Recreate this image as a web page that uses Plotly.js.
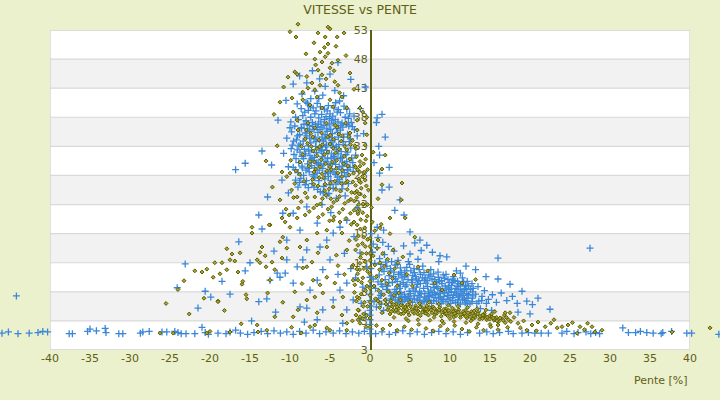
<!DOCTYPE html>
<html><head><meta charset="utf-8">
<script src="https://cdn.plot.ly/plotly-3.0.1.min.js"></script>
<style>html,body{margin:0;padding:0;background:#ebf0cd;}#chart{width:720px;height:400px;}</style>
</head><body><div id="chart"></div>
<script>
const chartTitle = 'VITESSE vs PENTE';
const xTitle = 'Pente [%]';
const xTicks = [-40,-35,-30,-25,-20,-15,-10,-5,0,5,10,15,20,25,30,35,40];
const yTicks = [-2,3,8,13,18,23,28,33,38,43,48,53];
const yTickText = ['3','3','8','13','18','23','28','33','38','43','48','53'];

// Blue series (+): [pente, vitesse]
const blueLeft = [
[-8.6,36.2],[-7.9,34.8],[-7.2,37.1],[-6.5,35.4],[-5.8,33.9],[-5.1,36.7],[-4.4,34.2],[-3.7,35.8],[-3.1,33.2],[-8.2,32.5],
[-7.5,31.4],[-6.8,33.0],[-6.1,30.8],[-5.4,32.3],[-4.7,30.1],[-4.0,31.7],[-3.4,29.6],[-8.9,30.2],[-8.0,28.9],[-7.3,29.7],
[-6.6,28.4],[-5.9,29.2],[-5.2,27.8],[-4.5,28.6],[-3.8,27.3],[-9.2,34.1],[-8.4,38.3],[-7.7,39.2],[-6.9,38.6],[-6.2,39.8],
[-5.5,38.1],[-4.8,37.5],[-4.1,38.9],[-3.5,37.0],[-2.8,35.1],[-2.4,32.7],[-2.9,30.4],[-9.5,31.6],[-9.8,35.5],[-8.7,33.4],
[-7.0,35.9],[-6.3,34.1],[-5.6,35.0],[-4.9,33.6],[-4.2,36.1],[-3.6,32.1],[-7.6,36.6],[-6.7,31.9],[-5.3,31.0],[-4.6,32.8],
[-8.1,35.3],[-7.4,33.6],[-6.0,36.3],[-5.7,37.6],[-4.3,29.9],[-3.2,28.5],[-6.4,27.1],[-7.1,27.9],[-5.0,26.4],[-4.0,26.9],
[-8.3,30.9],[-9.0,28.5],[-7.8,30.0],[-6.9,29.3],[-5.5,30.4],[-4.8,29.1],[-3.9,33.3],[-3.3,34.6],[-2.6,33.8],[-2.2,36.4],
[-6.6,40.4],[-7.4,41.2],[-5.9,41.8],[-5.2,40.0],[-8.0,40.6],[-4.5,39.6],[-3.8,40.8],[-6.9,42.5],[-5.6,43.3],[-7.9,43.9],
[-6.3,44.6],[-5.0,45.4],[-7.2,46.0],[-9.3,38.0],[-9.9,37.2],[-10.4,34.4],[-10.8,31.8],[-9.6,29.4],[-8.8,26.8],[-7.7,25.9],
[-6.2,25.2],[-5.4,24.6],[-4.2,24.1],[-3.5,25.7],[-2.7,26.6],[-2.1,28.7],[-1.8,31.5],[-1.6,34.8],[-2.0,38.2],[-2.9,39.4],
[-3.3,41.7],[-4.4,42.6],[-8.5,42.0],[-9.1,40.3],[-6.0,33.0],[-5.8,31.8],[-6.8,36.8],[-7.3,32.4],[-4.9,35.9],[-4.6,37.0],
[-5.1,34.5],[-6.4,37.9],[-7.0,30.6],[-8.5,29.6],[-3.7,30.9],[-3.0,31.6],[-2.5,29.4],[-6.1,32.2],[-5.3,28.6],[-4.1,27.7],
[-8.8,35.0],[-8.0,37.4],[-7.4,38.0],[-6.6,36.3],[-6.0,34.6],[-5.4,36.0],[-4.7,35.2],[-4.0,37.2],[-3.4,36.3],[-2.7,37.8],
[-8.5,31.3],[-7.7,33.1],[-7.0,34.3],[-6.3,32.8],[-5.6,34.3],[-4.8,31.7],[-4.2,33.0],[-3.5,31.1],[-2.8,32.0],[-2.3,31.0],
[-8.9,33.1],[-8.3,28.0],[-7.6,28.6],[-6.9,27.6],[-6.2,29.8],[-5.6,28.3],[-4.9,27.1],[-4.3,28.2],[-3.6,29.0],[-3.0,27.8],
[-9.4,36.5],[-8.6,39.5],[-7.8,40.4],[-7.1,39.6],[-6.4,41.2],[-5.7,39.4],[-5.0,38.6],[-4.3,40.5],[-3.7,38.8],[-3.1,38.0],
[-9.1,32.4],[-9.7,33.2],[-10.0,36.2],[-10.2,29.5],[-9.3,27.2],[-8.1,26.4],[-7.0,26.0],[-5.8,26.1],[-4.6,25.8],[-3.4,26.5]
];
const blueLeft2 = [
[-8.95,37.6],[-8.25,36.8],[-7.55,35.6],[-6.85,34.6],[-6.15,37.2],[-5.45,33.2],[-4.75,34.0],[-4.05,35.4],[-3.35,33.8],[-2.65,36.5],
[-9.05,34.8],[-8.35,33.9],[-7.65,32.2],[-6.95,31.1],[-6.25,35.9],[-5.55,32.9],[-4.85,30.9],[-4.15,32.4],[-3.45,30.3],[-2.75,29.0],
[-8.75,32.0],[-8.05,31.7],[-7.35,30.8],[-6.65,30.2],[-5.95,31.2],[-5.25,29.9],[-4.55,31.3],[-3.85,29.5],[-3.15,30.0],[-2.45,34.3],
[-8.45,29.3],[-7.75,29.2],[-7.05,28.2],[-6.35,28.9],[-5.65,27.4],[-4.95,28.4],[-4.25,26.5],[-3.55,27.9],[-2.85,28.9],[-2.15,30.2],
[-8.15,38.9],[-7.45,39.8],[-6.75,39.1],[-6.05,38.5],[-5.35,39.1],[-4.65,38.2],[-3.95,39.3],[-3.25,39.9],[-2.55,38.6],[-1.95,35.9],
[-8.55,36.1],[-7.85,36.0],[-7.15,36.4],[-6.45,36.8],[-5.75,36.6],[-5.05,37.8],[-4.35,37.6],[-3.65,36.6],[-2.95,36.8],[-2.35,37.1],
[-9.25,30.9],[-9.55,33.9],[-9.85,32.6],[-9.35,29.0],[-8.65,27.5],[-7.95,27.1],[-7.25,26.6],[-6.55,25.6],[-5.85,25.0],[-5.15,24.9],
[-6.75,33.8],[-6.05,32.4],[-5.35,35.6],[-4.65,33.1],[-3.95,34.6],[-7.55,34.4],[-5.75,30.0],[-4.45,31.0],[-7.25,31.0],[-6.45,30.0]
];
const blueSparse = [
[-11.5,37.5],[-12.3,29.8],[-13.5,32.2],[-16.8,29.0],[-11.0,27.2],[-10.2,25.0],[-12.8,24.3],[-1.2,39.5],[-0.8,35.2],[0.8,37.1],
[1.5,38.5],[1.1,33.0],[0.5,30.2],[2.4,29.4],[-0.6,43.2],[-2.4,44.5],[-4.0,47.4],[-8.8,45.1],[-9.6,43.7],[-10.5,40.9],
[1.9,34.6],[1.2,31.5],[1.5,25.5],[3.1,22.0],[0.9,37.9],[-15.6,30.1],[-9.0,26.0]
];
const blueLower = [
[-13.9,21.2],[-13.5,18.8],[-16.4,16.6],[-23.1,12.8],[-24.1,8.7],[-20.6,8.1],[-19.9,7.1],[-17.5,7.6],[-15.0,13.0],[-15.6,11.6],
[-13.9,6.3],[-12.9,6.8],[-11.25,10.5],[-10.6,11.2],[-9.6,9.5],[-8.75,5.4],[-7.9,5.2],[-6.6,3.2],[-5.9,4.9],[-4.6,6.6],
[-3.75,8.3],[-2.9,9.5],[-1.25,3.2],[-2.9,4.9],[-2.1,6.6],[-7.5,8.3],[-6.6,10.0],[-5.9,11.8],[-5.0,13.5],[-8.4,13.5],
[-9.1,12.3],[-10.4,13.5],[-11.6,11.2],[-12.5,10.0],[-7.9,15.2],[-6.25,15.7],[-5.4,16.9],[-4.6,18.1],[-3.75,19.1],[-2.9,20.3],
[-6.6,19.8],[-8.75,18.6],[-10.4,16.9],[-9.6,21.5],[-10.9,21.5],[-7.9,22.6],[-0.9,8.8],[-0.4,12.3],[-1.25,14.7],[-18.5,9.8],
[-21.5,5.2],[-14.8,3.0],[-4.0,11.0],[-3.2,14.6],[-2.0,17.5],[-1.6,22.4],[-4.9,21.6],[-6.0,23.0],[-3.1,24.5],[-2.4,12.0],
[-1.8,10.4],[-1.1,6.0],[-0.6,4.2],[-3.4,2.6],[-8.2,2.8],[-11.8,4.5],[-44.2,7.3],[-12.0,15.0]
];
const blueZero = [
[0,0.8],[0,1.6],[0,2.4],[0,3.2],[0,4.0],[0,4.8],[0,5.6],[0,6.5],[0,7.6],[0,9.0],[0,10.5],[0.1,12.0]
];
const blueRight = [
[0.3,14.8],[0.6,12.9],[0.9,15.6],[1.2,13.7],[1.5,11.9],[1.8,14.4],[2.1,12.4],[2.4,10.8],[2.7,13.2],[3.0,11.4],
[0.4,10.2],[0.7,8.6],[1.0,9.7],[1.3,7.4],[1.6,8.9],[1.9,10.1],[2.2,9.0],[2.5,7.9],[2.8,9.6],[3.1,8.4],
[0.5,6.3],[0.8,5.4],[1.1,6.9],[1.4,5.9],[1.7,4.8],[2.0,6.5],[2.3,5.6],[2.6,6.8],[2.9,7.1],[3.2,10.2],
[0.4,16.2],[1.0,17.3],[1.6,16.5],[0.2,18.0],[2.3,15.8],[3.0,15.0],[3.5,13.4],[3.8,12.1],[0.9,19.1],[1.7,18.6],
[4.2,15.9],[5.0,14.5],[5.6,16.4],[6.4,15.1],[7.1,16.0],[4.8,13.2],[6.0,13.6],[7.8,14.8],[8.6,13.2],[9.6,14.0],
[3.4,9.8],[3.7,8.6],[4.0,10.4],[4.3,7.6],[4.6,9.2],[4.9,8.1],[5.2,10.0],[5.5,7.3],[5.8,8.8],[6.1,9.9],
[6.4,7.7],[6.7,8.6],[7.0,9.5],[7.3,7.2],[7.6,8.3],[7.9,9.3],[8.2,7.5],[8.5,8.6],[8.8,7.1],[9.1,8.2],
[9.4,9.0],[9.7,7.4],[10.0,8.4],[10.3,7.0],[10.6,7.9],[10.9,8.9],[11.2,7.3],[11.5,8.1],[11.8,6.8],[12.1,7.7],
[3.6,7.0],[4.1,6.3],[4.7,6.8],[5.3,6.2],[5.9,6.6],[6.5,6.1],[7.1,6.5],[7.7,6.0],[8.3,6.4],[8.9,6.0],
[9.5,6.3],[10.1,6.0],[10.7,6.2],[11.3,5.9],[11.9,6.1],[12.5,6.0],[12.8,6.9],[13.2,7.6],[13.6,6.4],[14.0,7.2],
[3.9,11.3],[4.5,10.9],[5.1,11.6],[5.7,10.6],[6.3,11.0],[6.9,10.4],[7.5,10.7],[8.1,10.1],[8.7,9.8],[9.3,10.3],
[9.9,9.6],[10.5,9.9],[11.1,9.4],[11.7,9.7],[12.3,9.0],[12.9,8.6],[13.5,8.9],[14.3,8.2],[14.8,6.7],[15.3,7.5],
[4.4,8.9],[5.4,8.5],[6.2,8.0],[7.2,8.9],[8.0,8.7],[9.0,9.4],[10.2,9.1],[11.0,8.4],[12.0,8.6],[6.8,7.1],
[3.3,8.0],[3.8,9.3],[4.3,10.6],[4.8,7.2],[5.3,9.6],[5.8,10.2],[6.3,9.4],[6.8,10.0],[7.3,8.0],[7.8,7.6],
[8.3,9.6],[8.8,8.3],[9.3,7.8],[9.8,8.8],[10.3,9.6],[10.8,7.6],[11.3,9.0],[11.8,8.4],[12.3,7.5],[12.8,8.0],
[3.5,6.4],[4.0,7.2],[5.0,6.9],[6.0,7.4],[7.0,6.8],[8.0,7.0],[9.0,6.7],[10.0,7.0],[11.0,6.6],[12.0,6.5],
[4.6,12.2],[5.5,12.0],[6.6,12.4],[7.6,11.8],[8.5,11.4],[9.5,11.0],[10.4,10.6],[3.4,12.7],[2.6,11.6],[1.4,9.3],
[15.8,6.2],[16.4,7.8],[17.1,6.5],[17.8,7.2],[18.4,6.0],[19.0,8.1],[19.6,6.4],[20.3,5.8],[21.0,6.9],[16.0,10.2],
[17.5,9.3],[14.5,10.6],[13.2,11.8],[12.0,12.4],[10.8,11.6],[18.5,4.5],[20.0,4.2],[15.2,4.8],[13.8,5.1],[22.5,5.0],
[16.0,13.8],[27.5,15.5],[11.3,11.2],[8.75,14.2],[6.25,16.9],[5.0,18.3],[4.25,21.2],[3.75,23.8],[2.4,26.0],[1.2,28.4]
];
const blueRight2 = [
[1.15,10.9],[1.75,11.5],[2.35,9.6],[2.95,10.6],[3.55,11.0],[4.15,9.6],[4.75,10.1],[5.35,10.8],[5.95,9.3],[6.55,10.4],
[7.15,9.9],[7.75,10.2],[8.35,8.9],[8.95,9.9],[9.55,8.5],[10.15,8.0],[10.75,8.6],[11.35,7.7],[11.95,9.1],[12.55,8.4],
[1.45,7.7],[2.05,8.4],[2.65,7.3],[3.25,7.6],[3.85,7.9],[4.45,7.0],[5.05,7.7],[5.65,8.1],[6.25,7.1],[6.85,7.7],
[7.45,7.4],[8.05,7.9],[8.65,7.7],[9.25,7.2],[9.85,7.9],[10.45,7.4],[11.05,7.1],[11.65,7.4],[12.25,6.9],[12.85,7.3],
[3.15,6.6],[3.75,6.1],[4.35,6.6],[4.95,6.4],[5.55,6.8],[6.15,6.5],[6.75,6.3],[7.35,6.6],[7.95,6.5],[8.55,6.9],
[9.15,6.4],[9.75,6.7],[10.35,6.5],[10.95,6.1],[11.55,6.6],[12.15,5.9],[12.75,6.3],[13.35,6.0],[13.95,6.5],[14.55,6.0],
[1.35,12.7],[1.95,13.1],[2.55,12.0],[3.15,12.6],[3.75,11.0],[4.35,11.6],[4.95,12.7],[5.55,11.3],[6.15,11.8],[6.75,11.3],
[7.35,10.9],[7.95,11.1],[8.55,10.5],[9.15,10.9],[9.75,10.1],[10.35,10.2],[10.95,9.8],[11.55,10.4],[12.15,9.8],[12.75,9.4]
];
const blueBottom = [
[-46.0,0.9],[-45.2,1.1],[-44.0,0.8],[-42.6,0.9],[-41.5,1.0],[-40.9,1.2],[-40.3,1.1],[-37.6,0.8],[-37.2,0.8],[-35.3,1.2],
[-35.0,1.6],[-34.2,1.3],[-33.1,1.7],[-33.0,1.0],[-31.4,0.8],[-30.9,0.8],[-28.7,0.9],[-28.4,1.1],[-27.6,1.2],[-26.0,1.1],
[-25.4,1.1],[-24.4,1.2],[-24.0,1.0],[-23.6,0.8],[-23.0,0.8],[-21.9,0.8],[-21.0,1.9],[-20.6,1.0],[-20.2,0.7],[-19.0,0.9],
[-18.0,0.8],[-17.5,1.1],[-16.8,1.4],[-16.2,0.9],[-15.3,0.7],[-14.5,1.0],[-13.6,1.2],[-12.8,0.8],[-12.0,1.3],[-11.2,0.9],
[-10.4,1.1],[-9.6,0.7],[-8.8,1.2],[-8.0,0.9],[-7.1,1.4],[-6.3,0.8],[-5.5,1.1],[-4.6,0.9],[-3.8,1.3],[-3.0,0.8],
[-2.2,1.1],[-1.4,0.9],[-0.7,1.2],[0.7,0.8],[1.5,1.1],[2.4,0.7],[3.2,1.0],[4.1,1.3],[5.0,0.8],[5.9,1.1],
[6.8,0.7],[7.7,1.0],[8.6,1.2],[9.5,0.8],[10.4,1.1],[11.3,0.7],[12.2,1.0],[13.7,0.9],[14.6,1.1],[15.4,0.8],
[16.2,1.0],[17.3,1.2],[17.9,0.8],[19.0,0.9],[19.8,1.0],[20.6,0.9],[21.4,0.9],[22.3,0.9],[24.0,0.9],[24.6,1.2],
[25.5,0.8],[26.0,1.0],[27.0,1.1],[27.6,0.8],[28.2,1.0],[28.7,0.8],[31.6,1.8],[32.3,1.0],[33.2,1.0],[33.8,1.2],
[34.6,1.0],[35.4,0.9],[36.4,0.8],[36.6,1.0],[37.7,1.2],[39.6,0.9],[40.2,0.9],[43.6,0.7]
];

// Olive series (diamonds): [pente, vitesse]
const oliveUpper = [
[-9.0,54.0],[-5.25,53.5],[-5.0,53.2],[-10.0,52.7],[-9.25,51.8],[-6.5,52.5],[-5.6,51.8],[-4.1,51.8],[-3.25,52.5],[-5.25,50.6],
[-4.25,50.2],[-6.25,49.2],[-5.25,49.0],[-5.6,48.4],[-6.9,48.0],[-6.0,47.5],[-4.75,47.3],[-4.0,47.8],[-5.0,46.5],[-6.5,46.1],
[-6.0,45.3],[-9.4,45.8],[-9.1,45.4],[-10.25,44.9],[-7.25,43.9],[-7.75,43.0],[-6.25,43.5],[-4.4,44.1],[-4.0,43.5],[-2.5,45.6],
[-6.9,42.7],[-8.4,42.3],[-6.6,41.5],[-5.0,41.0],[-3.5,41.5],[-11.25,40.6],[-9.75,41.3],[-8.4,41.0],[-7.5,40.1],[-6.0,39.6],
[-4.6,39.8],[-2.9,39.6],[-1.25,39.6],[-0.9,38.9],[-1.6,37.5],[-0.4,38.0],[-9.6,38.9],[-9.1,37.5],[-11.6,33.1],[-9.0,35.8],
[-7.75,37.0],[-6.9,36.2],[-4.1,36.3],[-2.5,35.3],[-1.6,35.8],[-0.6,37.0],[-0.4,35.0],[-0.6,33.2],[-5.7,50.0],[-6.8,47.0],
[-4.5,46.0],[-5.5,44.6],[-3.0,48.6],[-7.9,45.0],[-8.0,48.9],[-7.0,50.8],[-3.8,42.2],[-2.0,42.8],[-10.8,43.2],[-12.0,38.5]
];
const oliveMid = [
[-7.8,33.5],[-7.1,32.2],[-6.4,34.1],[-5.7,31.6],[-5.0,33.4],[-4.3,31.9],[-3.6,33.9],[-2.9,32.4],[-2.2,34.0],[-1.7,31.2],
[-7.5,30.4],[-6.8,29.1],[-6.1,30.7],[-5.4,28.8],[-4.7,30.3],[-4.0,28.4],[-3.3,30.0],[-2.6,28.1],[-1.9,29.6],[-1.4,27.4],
[-7.2,27.3],[-6.5,26.2],[-5.8,27.6],[-5.1,25.7],[-4.4,27.0],[-3.7,25.3],[-3.0,26.8],[-2.3,25.1],[-1.8,26.3],[-1.2,24.8],
[-6.9,24.3],[-6.2,23.1],[-5.5,24.6],[-4.8,22.6],[-4.1,23.8],[-3.4,22.2],[-2.7,23.6],[-2.0,22.0],[-8.4,31.6],[-8.8,28.2],
[-9.4,26.6],[-9.9,30.6],[-10.4,27.8],[-8.1,25.0],[-8.6,23.5],[-7.6,21.8],[-5.9,21.3],[-4.5,20.9],[-3.0,20.6],[-1.5,21.4],
[-6.3,32.9],[-5.3,34.6],[-4.6,32.7],[-3.9,35.1],[-3.2,31.3],[-2.5,30.8],[-1.9,33.1],[-6.6,31.4],[-7.4,35.2],[-8.1,34.3],
[-5.0,29.5],[-4.2,29.2],[-3.5,27.8],[-2.8,27.0],[-6.0,28.3],[-7.0,28.6],[-3.8,24.4],[-4.9,24.0],[-2.4,23.9],[-5.6,26.5],
[-11.0,28.6],[-11.25,23.8],[-10.5,22.2],[-11.0,20.7],[-12.5,19.5],[-14.75,19.1],[-13.5,15.7],[-11.25,16.6],[-10.1,21.2],[-9.1,24.3],
[-10.0,28.4],[-8.75,30.3],[-9.8,25.5],[-12.2,26.0],[-13.0,30.5]
];
const oliveMid2 = [
[-7.35,33.0],[-6.65,32.6],[-5.95,33.3],[-5.25,32.0],[-4.55,34.2],[-3.85,32.5],[-3.15,33.0],[-2.45,33.3],[-1.75,32.6],[-1.25,30.4],
[-7.65,29.6],[-6.95,30.3],[-6.25,29.5],[-5.55,30.0],[-4.85,29.0],[-4.15,30.6],[-3.45,28.9],[-2.75,29.6],[-2.05,28.4],[-1.55,29.0],
[-7.05,26.5],[-6.35,27.6],[-5.65,25.4],[-4.95,26.7],[-4.25,25.6],[-3.55,26.6],[-2.85,25.6],[-2.15,26.9],[-1.65,25.3],[-1.15,26.8],
[-6.65,22.9],[-5.95,24.0],[-5.25,22.2],[-4.55,23.4],[-3.85,21.6],[-3.15,23.2],[-2.45,21.5],[-1.95,23.6],[-1.35,22.0],[-0.85,23.0],
[-8.25,27.0],[-7.85,24.2],[-7.05,22.4],[-6.45,20.8],[-5.05,20.2],[-3.75,20.0],[-2.35,19.6],[-8.95,22.4],[-9.55,24.2],[-9.25,28.8],
[-7.15,34.6],[-6.05,35.3],[-4.95,34.9],[-3.45,34.8],[-2.65,34.7],[-7.95,35.8],[-5.45,37.0],[-3.05,37.0],[-8.55,33.0],[-4.35,36.6]
];
const oliveColumn = [
[-1.0,31.5],[-0.8,30.0],[-1.3,28.6],[-0.6,27.2],[-1.1,25.8],[-0.7,24.4],[-1.4,23.0],[-0.9,21.6],[-0.5,20.2],[-1.2,18.8],
[-0.8,17.4],[-1.5,16.0],[-1.0,14.6],[-0.6,13.2],[-1.3,11.8],[-0.9,10.4],[-0.4,9.0],[-1.1,7.6],[-0.7,6.2],[-1.4,4.8],
[-0.9,3.4],[-0.5,2.0],[-1.8,29.4],[-1.9,25.0],[-2.0,20.0],[-1.8,15.2],[-2.1,12.6],[-1.9,9.2],[-1.7,6.4],[-2.2,3.0],
[-0.3,29.0],[-0.3,23.0],[-0.3,17.0],[-0.3,11.5],[-0.3,5.5],[-1.6,19.5],[-1.2,13.9],[-0.6,15.8],[-1.5,10.0],[-0.8,4.2],
[-0.55,30.8],[-1.25,29.6],[-0.95,27.8],[-0.45,26.2],[-1.35,24.8],[-0.85,23.1],[-0.35,21.0],[-1.15,20.4],[-0.65,19.0],[-1.45,17.6],
[-0.95,16.3],[-0.45,14.6],[-1.25,12.9],[-0.75,12.0],[-1.55,11.1],[-1.05,9.6],[-0.55,8.2],[-1.35,6.9],[-0.85,5.5],[-0.45,3.9],
[-1.25,2.6],[-1.75,4.0],[-1.95,7.9],[-1.65,11.9],[-1.75,17.0],[-1.55,21.8],[-1.65,24.2],[-1.35,27.0],[-0.7,28.6],[-0.2,25.5]
];
const oliveLower = [
[-14.75,18.1],[-12.6,19.5],[-17.9,15.4],[-16.25,14.7],[-17.25,14.5],[-19.4,13.0],[-18.5,13.0],[-17.5,13.5],[-16.9,13.3],[-21.9,11.6],
[-21.0,11.4],[-20.4,11.9],[-18.75,11.1],[-17.9,11.8],[-16.5,11.4],[-23.25,9.9],[-19.6,10.5],[-16.0,9.3],[-15.9,9.8],[-20.75,6.9],
[-19.0,6.4],[-15.5,7.5],[-15.4,6.8],[-14.1,13.5],[-13.75,13.0],[-13.0,12.3],[-12.25,13.1],[-13.75,14.8],[-13.1,14.2],[-11.9,11.8],
[-12.5,10.0],[-11.0,13.8],[-10.4,15.5],[-10.9,17.4],[-10.6,20.0],[-10.0,19.1],[-9.1,20.7],[-8.1,21.2],[-11.9,3.7],[-9.6,3.7],
[-9.0,4.9],[-7.9,6.6],[-6.9,7.1],[-5.9,7.8],[-4.6,5.4],[-3.4,7.1],[-3.5,4.0],[-2.9,2.6],[-6.9,2.3],[-5.4,1.8],
[-14.1,2.3],[-14.0,1.1],[-7.1,10.0],[-6.25,9.2],[-5.4,10.5],[-4.4,9.5],[-8.4,12.1],[-7.25,13.1],[-6.5,14.7],[-5.4,15.7],
[-7.9,16.9],[-8.75,15.7],[-6.6,18.1],[-5.4,18.6],[-4.6,20.3],[-3.5,18.1],[-2.9,15.2],[-2.25,12.3],[-2.1,10.0],[-1.6,7.1],
[-1.5,4.9],[-1.25,3.7],[-7.9,12.3],[-6.6,4.4],[-7.5,2.0],[-5.0,1.4],[-2.9,1.4],[-1.5,3.2],[-19.0,6.3],[-26.25,0.9],
[-24.6,0.9],[-20.4,0.9],[-20.0,1.2],[-17.5,1.1],[-9.4,8.0],[-8.5,9.4],[-4.0,12.5],[-3.2,11.0],[-2.6,16.8],[-4.2,14.3],
[-25.5,6.0],[-24.0,8.4],[-22.6,4.2],[-18.2,4.8],[-12.8,7.8],[-10.9,6.2],[-9.8,1.9],[-12.9,1.4],[-16.1,2.5],[-8.6,0.9]
];
const oliveZero = [
[0,2.0],[0,3.5],[0,6.2],[0,7.4],[0,8.6],[0,9.8],[0,11.0],[0,12.2],[0,13.4],[0,14.6],[0,15.8],[0,17.2]
];
const oliveRightNear = [
[1.0,16.9],[2.9,15.2],[4.1,14.0],[5.6,17.4],[3.5,13.0],[1.25,13.0],[0.6,12.6],[1.2,11.8],[1.8,12.4],[2.4,11.2],
[0.8,10.6],[1.5,10.0],[2.1,9.4],[2.8,10.3],[3.4,9.0],[0.5,9.0],[1.1,8.2],[1.7,7.5],[2.3,8.0],[3.0,7.4],
[0.7,6.8],[1.3,6.1],[1.9,6.6],[2.6,6.2],[3.6,7.8],[0.4,14.2],[0.9,15.5],[1.6,14.6],[2.2,13.6],[3.1,12.0],
[8.1,9.5],[9.0,8.3],[10.5,10.9],[11.5,9.5],[6.0,12.3],[7.2,11.6],[4.6,11.0],[13.2,10.1],[5.3,9.0],[0.3,20.0],
[0.6,18.5],[1.4,19.6],[2.5,18.0],[0.2,22.5],[1.0,24.0],[1.9,31.5],[1.5,29.1],[1.5,26.4],[4.0,26.7],[3.9,23.8],
[4.4,20.7],[2.5,20.7],[1.25,19.0],[0.4,32.0]
];
const oliveBand = [
[2.0,5.9],[2.2,4.9],[2.5,4.2],[2.8,5.5],[3.1,4.6],[3.3,5.9],[3.6,5.1],[3.9,4.2],[4.1,5.6],[4.4,4.7],
[4.7,5.8],[4.9,4.0],[5.2,5.0],[5.5,4.3],[5.7,5.6],[6.0,4.7],[6.3,3.9],[6.5,5.3],[6.8,4.4],[7.1,5.6],
[7.3,4.0],[7.6,4.9],[7.9,5.4],[8.1,4.1],[8.4,4.7],[8.7,5.3],[8.9,3.8],[9.2,4.5],[9.5,5.1],[9.7,3.9],
[10.0,4.6],[10.3,5.2],[10.5,3.7],[10.8,4.4],[11.1,4.9],[11.3,3.6],[11.6,4.2],[11.9,4.8],[12.1,3.5],[12.4,4.1],
[12.7,4.6],[12.9,3.4],[13.2,4.0],[13.5,4.5],[13.7,3.3],[14.0,3.9],[14.3,4.3],[14.6,3.2],[14.9,3.8],[15.2,4.2],
[15.5,3.1],[15.8,3.6],[16.1,2.9],[16.5,3.4],[16.9,2.7],[17.3,3.2],[2.6,6.5],[3.8,6.6],[5.0,6.3],[6.2,6.0],
[7.4,6.2],[8.6,5.9],[9.8,5.7],[11.0,5.5],[12.2,5.3],[13.4,5.1],[14.5,4.9],[3.0,3.6],[4.5,3.4],[6.0,3.2],
[7.5,3.1],[9.0,3.0],[10.5,2.9],[12.0,2.7],[13.5,2.5],[15.0,2.4],[5.8,4.9],[7.0,4.3],[8.2,4.9],[9.4,4.2],
[10.6,4.8],[11.8,4.0],[13.0,4.7],[14.2,3.6],[4.2,4.3],[2.9,4.9],[6.6,4.6],[8.0,3.6],[10.0,3.4],[12.6,3.0],
[1.2,5.3],[1.5,4.4],[1.0,6.4],[16.8,4.0],[15.6,4.6],
[2.35,5.3],[2.65,4.6],[2.95,5.8],[3.25,4.9],[3.55,4.4],[3.85,5.7],[4.15,4.9],[4.45,5.3],[4.75,4.5],[5.05,5.5],
[5.35,4.6],[5.65,5.2],[5.95,4.2],[6.25,5.4],[6.55,4.5],[6.85,5.1],[7.15,4.7],[7.45,5.3],[7.75,4.4],[8.05,5.1],
[8.35,4.3],[8.65,4.9],[8.95,4.5],[9.25,5.0],[9.55,4.3],[9.85,4.8],[10.15,4.1],[10.45,4.6],[10.75,3.9],[11.05,4.5],
[11.35,4.1],[11.65,4.6],[11.95,3.8],[12.25,4.4],[12.55,3.7],[12.85,4.3],[13.15,3.6],[13.45,4.2],[13.75,3.8],[14.05,3.4],
[14.35,3.9],[14.65,3.6],[14.95,3.3],[15.25,3.7],[15.55,3.4],[15.85,3.0],[16.25,3.5],[16.65,3.1],[17.05,3.6],[17.6,2.9],
[3.4,5.4],[4.6,5.0],[5.8,5.2],[7.0,5.0],[8.2,4.5],[9.4,4.7],[10.6,4.3],[11.8,4.3],[13.0,3.9],[14.2,4.0]
];
const oliveRightSparse = [
[14.1,4.0],[15.4,3.5],[16.0,2.3],[16.9,4.4],[17.5,4.4],[18.5,2.6],[19.6,1.4],[20.25,2.3],[21.9,2.0],[23.4,1.8],
[24.0,2.0],[24.75,2.3],[26.25,2.0],[27.75,2.0],[25.9,0.9],[28.1,1.1],[37.75,1.1],[42.5,1.8],[18.0,3.6],[19.2,3.0],
[21.0,2.8],[22.6,2.6],[23.0,3.2],[25.3,2.7],[26.8,1.5],[20.8,1.3],[18.8,1.8],[17.2,1.9],[27.2,2.6],[29.0,1.4]
];
const oliveLowRight = [
[0.8,2.2],[1.6,1.6],[2.5,2.3],[3.4,1.4],[4.3,2.0],[5.2,1.5],[6.1,2.4],[7.0,1.7],[7.9,1.3],[8.8,2.1],
[9.7,1.5],[10.6,2.2],[11.5,1.6],[12.4,1.2],[13.3,1.9],[14.2,1.4],[15.1,2.0],[16.0,1.5],[4.8,3.0],[9.2,2.6]
];

const blueAll = [].concat(blueLeft, blueLeft2, blueSparse, blueLower, blueZero, blueRight, blueRight2, blueBottom);
const oliveAll = [].concat(oliveUpper, oliveMid, oliveMid2, oliveColumn, oliveLower, oliveZero, oliveRightNear, oliveBand, oliveRightSparse, oliveLowRight);

// Page geometry (pixels) of the plot area
const W = 720, H = 400, plotL = 50, plotR = 690, plotT = 30, plotB = 350;
const xMin = -40, xMax = 40, yMin = -2, yMax = 53;
// full-page overlay axes with the same scale, so marks outside the plot area stay visible (as in the original)
const xs = (xMax - xMin) / (plotR - plotL), ys = (yMax - yMin) / (plotB - plotT);
const x2Range = [xMin - plotL * xs, xMax + (W - plotR) * xs];
const y2Range = [yMin - (H - plotB) * ys, yMax + plotT * ys];

const txt = '#5e5e14';
const traces = [
  {type:'scatter', mode:'markers', xaxis:'x2', yaxis:'y2', x: blueAll.map(p=>p[0]), y: blueAll.map(p=>p[1]), cliponaxis:false, hoverinfo:'skip',
   marker:{symbol:'cross-thin', size:5, line:{color:'#3a87d8', width:1.3}, color:'#3a87d8'}},
  {type:'scatter', mode:'markers', xaxis:'x2', yaxis:'y2', x: oliveAll.map(p=>p[0]), y: oliveAll.map(p=>p[1]), cliponaxis:false, hoverinfo:'skip',
   marker:{symbol:'diamond', size:3, color:'#a6a638', line:{color:'#5a5a00', width:1}}}
];

const shapes = [{type:'rect', xref:'x', yref:'y', x0:xMin, x1:xMax, y0:yMin, y1:yMax, fillcolor:'#ffffff', line:{width:0}, layer:'below'}];
for (let i = 1; i < yTicks.length - 1; i += 2) {
  shapes.push({type:'rect', xref:'x', yref:'y', x0:xMin, x1:xMax, y0:yTicks[i], y1:yTicks[i+1],
    fillcolor:'#f2f2f2', line:{width:0}, layer:'below'});
}
yTicks.forEach(v => shapes.push({type:'line', xref:'x', yref:'y', x0:xMin, x1:xMax, y0:v, y1:v,
  line:{color:'#d9d9d9', width:1.2}, layer:'below'}));
shapes.push({type:'rect', xref:'x', yref:'y', x0:xMin, x1:xMax, y0:yMin, y1:yMax,
  line:{color:'#d6d6d6', width:1.5}, fillcolor:'rgba(0,0,0,0)', layer:'below'});

const layout = {
  width:W, height:H,
  margin:{l:0, r:0, t:0, b:0},
  paper_bgcolor:'#ebf0cd', plot_bgcolor:'rgba(0,0,0,0)',
  font:{family:'DejaVu Sans, sans-serif', size:11, color:txt},
  showlegend:false,
  title:{text:chartTitle, x:0.5, xanchor:'center', y:0.975, yanchor:'middle', yref:'container', font:{size:12.5, color:txt}},
  xaxis:{domain:[plotL/W, plotR/W], range:[xMin,xMax], tickvals:xTicks, ticktext:xTicks.map(String), showgrid:false, zeroline:false, showline:false,
    ticks:'', tickfont:{size:11, color:txt}, fixedrange:true, anchor:'y'},
  yaxis:{domain:[1 - plotB/H, 1 - plotT/H], range:[yMin,yMax], tickvals:yTicks, ticktext:yTickText, anchor:'free',
    position:(plotL + (0 - xMin) / xs) / W, side:'left',
    showgrid:false, zeroline:false, showline:true, linecolor:'#5f5f10', linewidth:1.5,
    ticks:'', tickfont:{size:11, color:txt}, layer:'below traces', fixedrange:true},
  xaxis2:{domain:[0,1], range:x2Range, visible:false, anchor:'y2', fixedrange:true},
  yaxis2:{domain:[0,1], range:y2Range, visible:false, anchor:'x2', fixedrange:true},
  shapes: shapes,
  annotations:[{text:xTitle, xref:'paper', yref:'paper', x:plotR/W, y:(H-380)/H, xanchor:'right', yanchor:'middle',
    showarrow:false, font:{size:11, color:txt}}]
};
Plotly.newPlot('chart', traces, layout, {displayModeBar:false, staticPlot:true});
</script></body></html>
